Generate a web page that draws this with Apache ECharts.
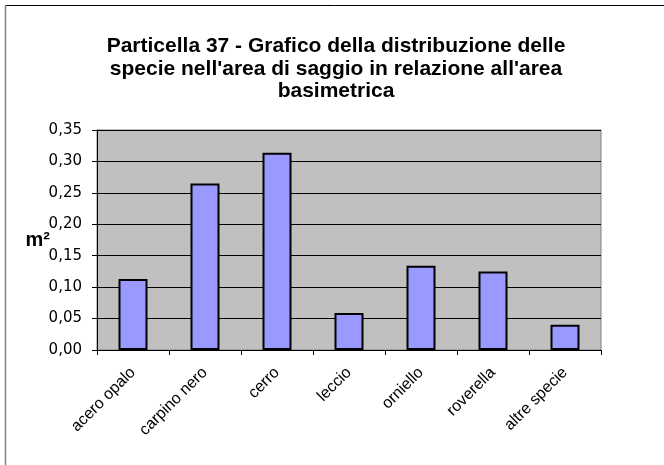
<!DOCTYPE html>
<html><head><meta charset="utf-8">
<script src="https://cdn.jsdelivr.net/npm/echarts@6/dist/echarts.min.js"></script>
<style>html,body{margin:0;padding:0;background:#fff}#c{width:664px;height:465px}</style>
</head><body><div id="c"></div>
<script>
var titleText = "Particella 37 - Grafico della distribuzione delle\nspecie nell'area di saggio in relazione all'area\nbasimetrica";
var categories = ["acero opalo","carpino nero","cerro","leccio","orniello","roverella","altre specie"];
var values = [0.113, 0.265, 0.314, 0.059, 0.134, 0.125, 0.040];
var yName = "m²";
var yMin = 0, yMax = 0.35, yStep = 0.05;

var chart = echarts.init(document.getElementById('c'), null, {renderer:'canvas'});
var F = "'Liberation Sans', Arial, sans-serif";
chart.setOption({
  animation:false,
  backgroundColor:'#fff',
  graphic:[
    {type:'line', shape:{x1:5,y1:5.5,x2:664,y2:5.5}, style:{stroke:'#000',lineWidth:1}},
    {type:'line', shape:{x1:5.5,y1:5,x2:5.5,y2:465}, style:{stroke:'#808080',lineWidth:1.5}},
    {type:'rect', shape:{x:97,y:130,width:504,height:220}, style:{fill:'#c0c0c0',stroke:'#808080',lineWidth:1}, z:-1}
  ],
  title:{text:titleText, left:331, textAlign:'center', top:30,
    textStyle:{fontFamily:F,fontSize:21,fontWeight:'bold',color:'#000',lineHeight:22.5}},
  grid:{left:97,right:63,top:130,bottom:115,containLabel:false},
  xAxis:{type:'category',data:categories,
    axisLine:{lineStyle:{color:'#000',width:1}},
    axisTick:{show:true,length:5,lineStyle:{color:'#000'},alignWithLabel:false},
    axisLabel:{rotate:45,interval:0,fontFamily:F,fontSize:16,color:'#000',margin:20}},
  yAxis:{type:'value',min:yMin,max:yMax,interval:yStep,
    name:yName,nameLocation:'middle',nameRotate:0,nameGap:47,nameMoveOverlap:false,
    nameTextStyle:{fontFamily:F,fontSize:20,fontWeight:'bold',color:'#000'},
    axisLine:{show:true,lineStyle:{color:'#000',width:1}},
    axisTick:{show:true,length:5,lineStyle:{color:'#000'}},
    splitLine:{show:true,lineStyle:{color:'#000',width:1}},
    axisLabel:{fontFamily:"'DejaVu Sans', sans-serif",fontSize:15,color:'#000',margin:15,
      formatter:function(v){return v.toFixed(2).replace('.',',');}}},
  series:[{type:'bar',data:values,barWidth:29,
    itemStyle:{color:'#9999ff',borderColor:'#000',borderWidth:2}}]
});
</script></body></html>
